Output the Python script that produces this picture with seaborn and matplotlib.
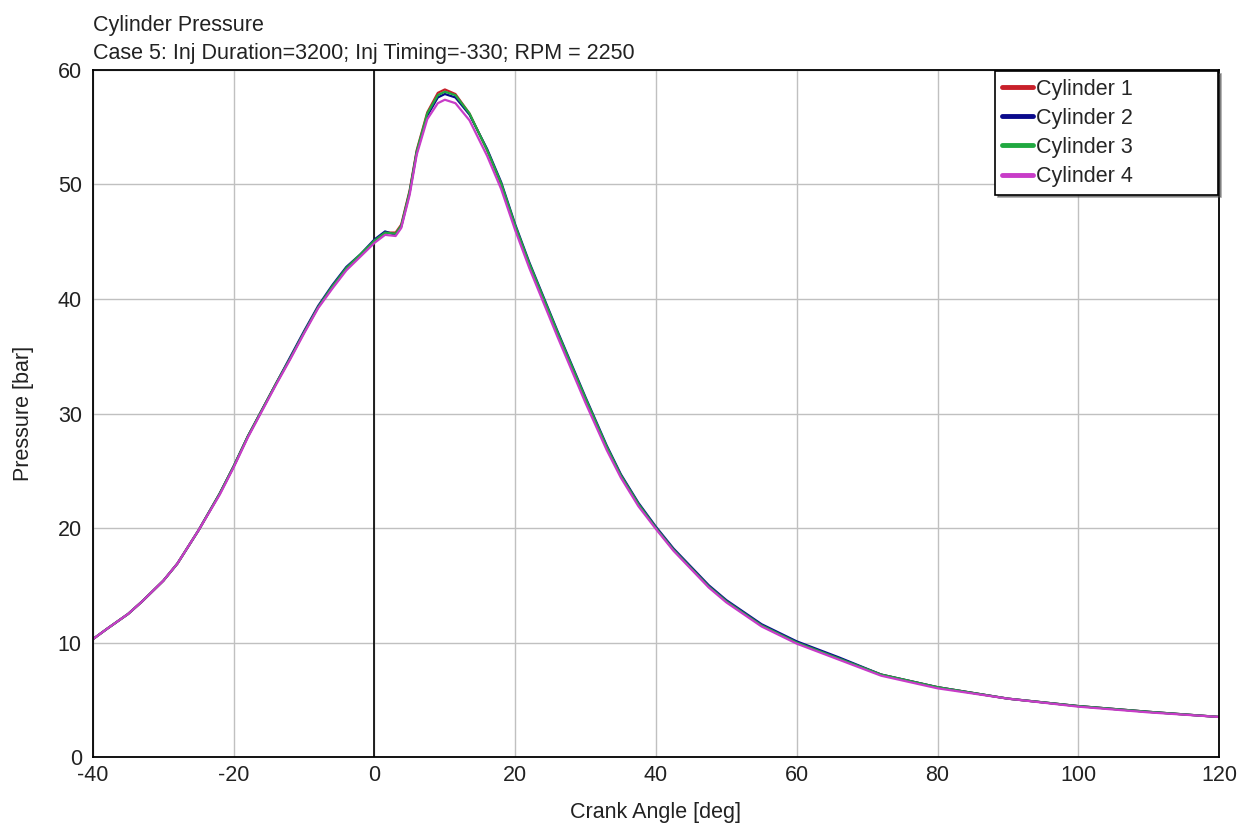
import pandas as pd
import seaborn as sns
import matplotlib.pyplot as plt

# === Data (crank angle [deg] vs cylinder pressure [bar]) ===
crank_angle = [-40, -38, -35, -33, -30, -28, -25, -22, -20, -18, -16, -14, -12, -10, -8, -6,
               -4, -2, 0, 1.5, 3, 3.8, 5, 6, 7.5, 9, 10, 11.5, 13.5, 16, 18, 20, 22, 24,
               26, 28, 30, 33, 35, 37.5, 40, 42.5, 45, 47.5, 50, 55, 60, 66, 72, 80, 90,
               100, 110, 120]

cyl1 = [10.3, 11.2, 12.5, 13.6, 15.4, 16.9, 19.8, 23.0, 25.4, 28.0, 30.3, 32.6, 34.8, 37.1, 39.3, 41.0,
        42.6, 43.8, 45.0, 45.8, 45.8, 46.5, 49.5, 53.0, 56.3, 58.0, 58.3, 57.9, 56.2, 53.0, 50.0, 46.3, 43.0, 40.0,
        37.0, 34.1, 31.2, 27.0, 24.6, 22.1, 20.0, 18.1, 16.5, 14.9, 13.6, 11.5, 10.0, 8.6, 7.2, 6.1, 5.1,
        4.45, 3.95, 3.5]
cyl2 = [10.3, 11.2, 12.5, 13.6, 15.4, 16.9, 19.8, 23.0, 25.4, 28.0, 30.3, 32.6, 34.9, 37.2, 39.4, 41.2,
        42.8, 43.9, 45.2, 45.9, 45.6, 46.3, 49.3, 52.8, 56.0, 57.6, 57.9, 57.6, 56.1, 53.1, 50.2, 46.5, 43.2, 40.2,
        37.2, 34.3, 31.4, 27.2, 24.7, 22.2, 20.1, 18.2, 16.6, 15.0, 13.7, 11.6, 10.1, 8.7, 7.2, 6.1, 5.1,
        4.45, 3.95, 3.5]
cyl3 = [10.3, 11.2, 12.5, 13.6, 15.4, 16.9, 19.8, 23.0, 25.4, 28.0, 30.3, 32.6, 34.8, 37.1, 39.3, 41.1,
        42.7, 43.9, 45.1, 45.8, 45.7, 46.4, 49.4, 52.9, 56.2, 57.8, 58.1, 57.8, 56.2, 53.0, 50.1, 46.4, 43.1, 40.1,
        37.1, 34.2, 31.3, 27.1, 24.6, 22.1, 20.0, 18.1, 16.5, 14.9, 13.6, 11.5, 10.0, 8.6, 7.2, 6.1, 5.1,
        4.45, 3.95, 3.5]
cyl4 = [10.3, 11.2, 12.5, 13.6, 15.4, 16.9, 19.8, 22.9, 25.3, 27.9, 30.2, 32.5, 34.7, 37.0, 39.2, 40.9,
        42.5, 43.7, 44.9, 45.6, 45.5, 46.2, 49.1, 52.6, 55.7, 57.1, 57.4, 57.1, 55.6, 52.5, 49.6, 46.0, 42.7, 39.7,
        36.7, 33.8, 30.9, 26.8, 24.4, 21.9, 19.9, 18.0, 16.4, 14.8, 13.5, 11.4, 9.9, 8.5, 7.1, 6.0, 5.1,
        4.4, 3.9, 3.5]

cylinders = ["Cylinder 1", "Cylinder 2", "Cylinder 3", "Cylinder 4"]
colors = ["#c8202a", "#0a0a8c", "#20a840", "#c83cc8"]

df = pd.concat([
    pd.DataFrame({"angle": crank_angle, "pressure": p, "cyl": name})
    for name, p in zip(cylinders, [cyl1, cyl2, cyl3, cyl4])
])

# === Plot ===
sns.set_style("white")
plt.rcParams["font.family"] = ["Liberation Sans", "DejaVu Sans"]
plt.rcParams["axes.unicode_minus"] = False

FS = 15.5
TXT = "#222222"

fig = plt.figure(figsize=(12.43, 8.32), dpi=100)
ax = fig.add_axes([0.0748, 0.0901, 0.9059, 0.8258])

ax.grid(True, color="#c0c0c0", linewidth=1.0)
ax.set_axisbelow(True)
ax.axvline(0, color="black", linewidth=1.2, zorder=1)

sns.lineplot(data=df, x="angle", y="pressure", hue="cyl", palette=colors,
             linewidth=1.6, ax=ax)

ax.set_xlim(-40, 120)
ax.set_ylim(0, 60)
ax.set_xticks(range(-40, 121, 20))
ax.set_yticks(range(0, 61, 10))
ax.tick_params(length=0, labelsize=FS, colors=TXT)
ax.tick_params(axis="x", pad=6)
ax.tick_params(axis="y", pad=8)
for s in ax.spines.values():
    s.set_color("black")
    s.set_linewidth(1.3)

ax.set_xlabel("Crank Angle [deg]", fontsize=FS, color=TXT, labelpad=11)
ax.set_ylabel("Pressure [bar]", fontsize=FS, color=TXT, labelpad=17)

fig.text(0.0748, 1 - 31 / 832, "Cylinder Pressure", fontsize=FS, color=TXT, va="baseline")
fig.text(0.0748, 1 - 59 / 832, "Case 5: Inj Duration=3200; Inj Timing=-330; RPM = 2250",
         fontsize=FS, color=TXT, va="baseline")

leg = ax.legend(loc="upper right", bbox_to_anchor=(0.8, 0.0, 0.2, 1.0), mode="expand",
                frameon=True, fancybox=False, shadow=True, fontsize=FS,
                handlelength=1.4, handletextpad=0.15, borderpad=0.35,
                labelspacing=0.38, borderaxespad=0.05)
leg.get_frame().set_edgecolor("black")
leg.get_frame().set_linewidth(1.2)
for h in leg.get_lines():
    h.set_linewidth(3.5)

plt.savefig("out.png", dpi=100)
